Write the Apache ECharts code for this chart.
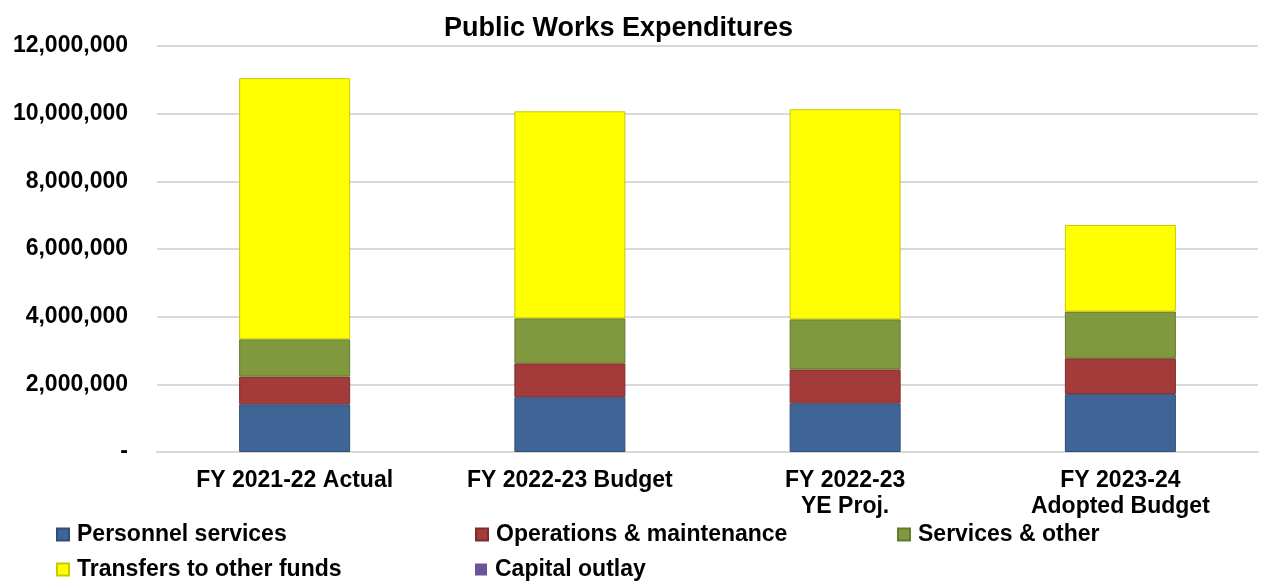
<!DOCTYPE html>
<html>
<head>
<meta charset="utf-8">
<script src="https://cdn.jsdelivr.net/npm/echarts@6/dist/echarts.min.js"></script>
<style>
  html, body { margin: 0; padding: 0; background: #fff; }
  #chart { width: 1261px; height: 582px; }
</style>
</head>
<body>
<div id="chart"></div>
<script>
const categories = ['FY 2021-22 Actual', 'FY 2022-23 Budget', 'FY 2022-23\nYE Proj.', 'FY 2023-24\nAdopted Budget'];
const personnel = [1410000, 1620000, 1440000, 1710000];
const operations = [820000, 1000000, 1000000, 1060000];
const servicesOther = [1100000, 1330000, 1480000, 1380000];
const transfers = [7720000, 6120000, 6210000, 2560000];
const capitalOutlay = [0, 0, 0, 0];
const yTicks = [0, 2000000, 4000000, 6000000, 8000000, 10000000, 12000000];

const font = 'Arial, "Liberation Sans", sans-serif';

const seriesDefs = [
  { name: 'Personnel services', data: personnel, color: '#3f6597', dark: '#2f4d78' },
  { name: 'Operations & maintenance', data: operations, color: '#a23b3a', dark: '#7e2c2b' },
  { name: 'Services & other', data: servicesOther, color: '#80993e', dark: '#647a2f' },
  { name: 'Transfers to other funds', data: transfers, color: '#ffff00', dark: '#c9c900' },
  { name: 'Capital outlay', data: capitalOutlay, color: '#6a559a', dark: '#4d3d73' }
];

// legend spots: [name, left, top]
const legendSpots = [
  ['Personnel services', 51, 518],
  ['Operations & maintenance', 470, 518],
  ['Services & other', 892, 518],
  ['Transfers to other funds', 51, 553],
  ['Capital outlay', 470, 553]
];

const chart = echarts.init(document.getElementById('chart'));

const option = {
  backgroundColor: '#fff',
  animation: false,
  title: {
    text: 'Public Works Expenditures',
    left: 439,
    top: 10,
    textStyle: { fontFamily: font, fontWeight: 'bold', fontSize: 27, color: '#000' }
  },
  legend: legendSpots.map(([name, left, top]) => ({
    left: left,
    top: top,
    data: [name],
    itemWidth: 12,
    itemHeight: 12,
    icon: 'rect',
    selectedMode: false,
    textStyle: { fontFamily: font, fontWeight: 'bold', fontSize: 23, color: '#000', padding: [0, 0, 0, 3] }
  })),
  grid: { left: 157, right: 3, top: 46, bottom: 130 },
  xAxis: {
    type: 'category',
    data: categories,
    axisLine: { show: true, lineStyle: { color: '#d9d9d9', width: 2 } },
    axisTick: { show: false },
    axisLabel: {
      margin: 16,
      fontFamily: font, fontWeight: 'bold', fontSize: 23, color: '#000',
      lineHeight: 26, interval: 0
    }
  },
  yAxis: {
    type: 'value',
    min: yTicks[0],
    max: yTicks[yTicks.length - 1],
    interval: 2000000,
    axisLine: { show: false },
    axisTick: { show: false },
    splitLine: { lineStyle: { color: '#d9d9d9', width: 2 } },
    axisLabel: {
      margin: 29,
      fontFamily: font, fontWeight: 'bold', fontSize: 23, color: '#000',
      formatter: (v) => (v === 0 ? '-' : v.toLocaleString('en-US'))
    }
  },
  series: seriesDefs.map((s) => ({
    name: s.name,
    type: 'bar',
    stack: 'total',
    barWidth: 111,
    data: s.data,
    itemStyle: {
      color: s.color,
      borderColor: s.dark,
      // zero-height segments should not leave a line on top of the stack
      borderWidth: s.data.some((v) => v > 0) ? 1 : 0
    }
  }))
};

chart.setOption(option);
</script>
</body>
</html>
